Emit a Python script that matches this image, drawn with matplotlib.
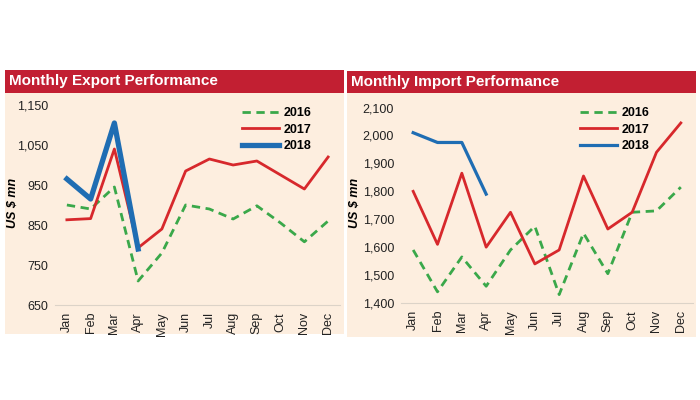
import matplotlib
matplotlib.use('Agg')
import matplotlib.pyplot as plt
from matplotlib.patches import Rectangle

plt.rcParams['font.family'] = ['Liberation Sans Narrow', 'Liberation Sans', 'DejaVu Sans']

months = ['Jan', 'Feb', 'Mar', 'Apr', 'May', 'Jun', 'Jul', 'Aug', 'Sep', 'Oct', 'Nov', 'Dec']

# 出口数据 (US $ mn)
export_2016 = [900, 890, 945, 710, 780, 900, 890, 865, 898, 855, 808, 860]
export_2017 = [863, 866, 1040, 793, 840, 985, 1015, 1000, 1010, 975, 940, 1020]
export_2018 = [965, 915, 1105, 790]
export_ticks = [650, 750, 850, 950, 1050, 1150]

# 进口数据 (US $ mn)
import_2016 = [1590, 1440, 1565, 1460, 1590, 1675, 1430, 1650, 1505, 1725, 1730, 1815]
import_2017 = [1800, 1610, 1865, 1600, 1725, 1540, 1590, 1855, 1665, 1725, 1940, 2045]
import_2018 = [2010, 1975, 1975, 1790]
import_ticks = [1400, 1500, 1600, 1700, 1800, 1900, 2000, 2100]

W, H = 700, 400
cream = '#fdeedf'
header_red = '#c21f32'
c16, c17, c18 = '#3aa84a', '#d7282c', '#1f6db3'

fig = plt.figure(figsize=(7, 4), dpi=100)
fig.patch.set_facecolor('white')


def px(x0, y0, x1, y1):
    # 像素坐标(左上原点) -> figure 坐标
    return [x0 / W, 1 - y1 / H, (x1 - x0) / W, (y1 - y0) / H]


def panel(box, head, title, ax_box, ylim, ticks, d16, d17, d18, w18, ylab_x, leg_xy):
    x0, y0, x1, y1 = box
    fig.patches.append(Rectangle((x0 / W, 1 - y1 / H), (x1 - x0) / W, (y1 - y0) / H,
                                 transform=fig.transFigure, facecolor=cream, edgecolor='none', zorder=-2))
    hx0, hy0, hx1, hy1 = head
    fig.patches.append(Rectangle((hx0 / W, 1 - hy1 / H), (hx1 - hx0) / W, (hy1 - hy0) / H,
                                 transform=fig.transFigure, facecolor=header_red, edgecolor='none', zorder=-1))
    fig.text((hx0 + 4) / W, 1 - (hy0 + hy1) / 2 / H, title, color='white', fontsize=11,
             fontweight='bold', va='center', ha='left')

    ax = fig.add_axes(px(*ax_box))
    ax.set_zorder(2)
    ax.set_facecolor('none')
    ax.plot(range(12), d16, color=c16, lw=2, ls=(0, (3, 2)), label='2016')
    ax.plot(range(12), d17, color=c17, lw=2, label='2017')
    ax.plot(range(len(d18)), d18, color=c18, lw=w18, label='2018')
    ax.set_xlim(-0.5, 11.5)
    ax.set_ylim(*ylim)
    ax.set_yticks(ticks)
    ax.set_yticklabels([f'{t:,}' for t in ticks], fontsize=9, color='#222222')
    ax.set_xticks(range(12))
    ax.set_xticklabels(months, rotation=90, fontsize=9, color='#222222')
    ax.tick_params(length=0, pad=5)
    for s in ['top', 'right', 'left']:
        ax.spines[s].set_visible(False)
    ax.spines['bottom'].set_color('#dcd3c8')
    ax.spines['bottom'].set_linewidth(0.8)

    fig.text(ylab_x / W, 1 - (ax_box[1] + ax_box[3]) / 2 / H, 'US $ mn', rotation=90,
             fontsize=9, fontweight='bold', fontstyle='italic', va='center', ha='center')

    leg = ax.legend(loc='upper left', bbox_to_anchor=(leg_xy[0] / W, 1 - leg_xy[1] / H),
                    bbox_transform=fig.transFigure, frameon=False, fontsize=9,
                    handlelength=2.9, handletextpad=0.4, labelspacing=0.35, borderpad=0)
    for t in leg.get_texts():
        t.set_fontweight('bold')
    return ax


panel((5, 70, 344, 334), (5, 70, 344, 93), 'Monthly Export Performance',
      (55, 101, 340, 305), (650, 1160), export_ticks,
      export_2016, export_2017, export_2018, 3.8, 13, (236, 101))

panel((347, 71, 696, 337), (347, 71, 696, 93), 'Monthly Import Performance',
      (401, 102, 693, 303), (1400, 2120), import_ticks,
      import_2016, import_2017, import_2018, 2.3, 355, (574, 101))

fig.savefig('out.png', dpi=100, facecolor='white')
